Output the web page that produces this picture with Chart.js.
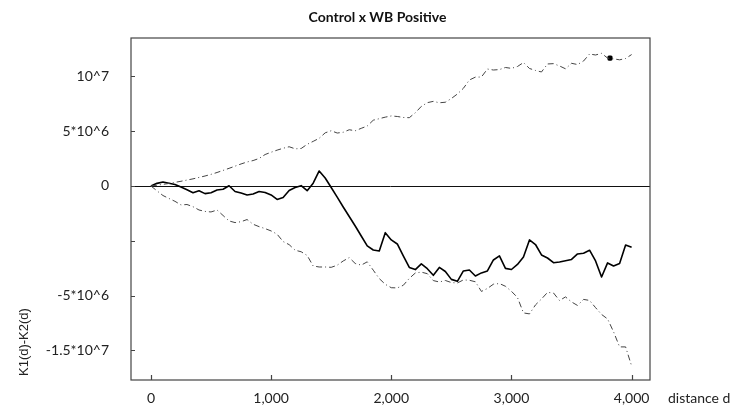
<!DOCTYPE html>
<html>
<head>
<meta charset="utf-8">
<script src="https://cdn.jsdelivr.net/npm/chart.js@4.4.1/dist/chart.umd.min.js"></script>
<style>
  html, body { margin: 0; padding: 0; background: #fff; }
  #wrap { position: relative; width: 755px; height: 411px; }
</style>
</head>
<body>
<div id="wrap"><canvas id="chart"></canvas></div>
<script>
  // distance d (x) and K1(d)-K2(d) values, in units of 10^6
  const distances = [
    0, 50, 100, 150, 200, 250, 300, 350, 400, 450,
    500, 550, 600, 650, 700, 750, 800, 850, 900, 950,
    1000, 1050, 1100, 1150, 1200, 1250, 1300, 1350, 1400, 1450,
    1500, 1550, 1600, 1650, 1700, 1750, 1800, 1850, 1900, 1950,
    2000, 2050, 2100, 2150, 2200, 2250, 2300, 2350, 2400, 2450,
    2500, 2550, 2600, 2650, 2700, 2750, 2800, 2850, 2900, 2950,
    3000, 3050, 3100, 3150, 3200, 3250, 3300, 3350, 3400, 3450,
    3500, 3550, 3600, 3650, 3700, 3750, 3800, 3850, 3900, 3950,
    4000
  ];
  const observed = [
    0, 0.24, 0.36, 0.25, 0.14, -0.09, -0.34, -0.62, -0.43, -0.70,
    -0.61, -0.36, -0.30, 0.02, -0.50, -0.64, -0.82, -0.73, -0.50, -0.59,
    -0.82, -1.23, -1.05, -0.41, -0.14, 0.03, -0.43, 0.26, 1.37, 0.73,
    -0.14, -1.02, -1.92, -2.78, -3.65, -4.56, -5.47, -5.84, -5.93, -4.26,
    -4.92, -5.29, -6.38, -7.43, -7.63, -7.11, -7.55, -8.15, -7.43, -7.80,
    -8.52, -8.70, -7.75, -7.66, -8.21, -7.93, -7.75, -6.75, -6.38, -7.52,
    -7.62, -7.16, -6.48, -4.92, -5.34, -6.29, -6.57, -7.00, -6.93, -6.82,
    -6.70, -6.20, -6.13, -5.86, -6.84, -8.30, -7.02, -7.30, -7.07, -5.38,
    -5.59
  ];
  const upperEnvelope = [
    0, 0.07, 0.15, 0.23, 0.33, 0.43, 0.54, 0.65, 0.78, 0.91,
    1.06, 1.23, 1.42, 1.61, 1.81, 2.01, 2.19, 2.32, 2.51, 2.87,
    3.08, 3.27, 3.44, 3.58, 3.39, 3.42, 3.80, 4.07, 4.35, 4.85,
    5.04, 4.83, 4.90, 5.13, 5.04, 5.26, 5.47, 6.00, 6.14, 6.28,
    6.39, 6.34, 6.25, 6.23, 6.68, 7.26, 7.60, 7.72, 7.59, 7.64,
    7.98, 8.39, 8.91, 9.67, 9.93, 9.94, 10.67, 10.58, 10.62, 10.81,
    10.73, 10.90, 11.26, 10.72, 10.54, 10.40, 11.13, 11.16, 10.95, 10.69,
    11.19, 11.08, 11.40, 12.04, 11.95, 12.10, 11.67, 11.60, 11.51, 11.63,
    11.99
  ];
  const lowerEnvelope = [
    0, -0.44, -0.87, -1.14, -1.40, -1.73, -1.69, -1.89, -2.19, -2.32,
    -2.37, -2.19, -2.69, -3.19, -3.34, -3.26, -3.06, -3.49, -3.71, -3.89,
    -4.10, -4.40, -5.07, -5.35, -5.86, -6.00, -6.34, -7.30, -7.39, -7.39,
    -7.42, -7.23, -6.84, -6.54, -7.07, -7.22, -6.92, -7.68, -8.45, -8.97,
    -9.28, -9.30, -9.06, -8.43, -7.94, -7.86, -8.00, -8.63, -8.76, -8.62,
    -8.81, -8.85, -8.57, -8.60, -8.74, -9.62, -9.35, -8.96, -8.90, -9.15,
    -9.61, -10.17, -11.58, -11.67, -10.85, -10.31, -9.71, -9.76, -10.45, -10.12,
    -10.58, -10.90, -10.35, -10.44, -11.10, -11.72, -12.13, -13.31, -14.68, -14.68,
    -16.42
  ];
  const markerDistance = [3820];
  const markerValue = [11.67];

  const xTickValues = [0, 1000, 2000, 3000, 4000];
  const yTickValues = [10, 5, 0, -5, -10, -15];
  const yTickLabels = ["10^7", "5*10^6", "0", "", "-5*10^6", "-1.5*10^7"];

  const toPoints = (xs, ys) => xs.map((x, i) => ({ x: x, y: ys[i] }));

  // title, zero line, frame, inward tick marks and the two axis captions
  const decorPlugin = {
    id: "decor",
    beforeDatasetsDraw(chart) {
      const { ctx, chartArea: a, scales } = chart;
      const y0 = Math.round(scales.y.getPixelForValue(0)) + 0.5;
      ctx.save();
      ctx.strokeStyle = "#111";
      ctx.lineWidth = 1;
      ctx.beginPath();
      ctx.moveTo(a.left, y0);
      ctx.lineTo(a.right, y0);
      ctx.stroke();
      ctx.restore();
    },
    afterDraw(chart) {
      const { ctx, chartArea: a, scales } = chart;
      ctx.save();
      ctx.strokeStyle = "#444";
      ctx.lineWidth = 1.2;
      ctx.strokeRect(a.left, a.top, a.right - a.left, a.bottom - a.top);
      ctx.beginPath();
      yTickValues.forEach((v) => {
        const py = Math.round(scales.y.getPixelForValue(v)) + 0.5;
        ctx.moveTo(a.left, py);
        ctx.lineTo(a.left + 4, py);
      });
      xTickValues.forEach((v) => {
        const px = Math.round(scales.x.getPixelForValue(v)) + 0.5;
        ctx.moveTo(px, a.bottom);
        ctx.lineTo(px, a.bottom - 5);
      });
      ctx.stroke();

      ctx.fillStyle = "#111";
      ctx.font = "bold 14px Lato";
      ctx.textAlign = "center";
      ctx.textBaseline = "middle";
      ctx.fillText("Control x WB Positive", chart.width / 2, 17);

      ctx.fillStyle = "#222";
      ctx.font = "14px Lato";
      ctx.textAlign = "left";
      ctx.fillText("distance d", a.right + 18, 398);

      ctx.translate(24, a.bottom - 4);
      ctx.rotate(-Math.PI / 2);
      ctx.font = "13px 'Liberation Sans'";
      ctx.fillText("K1(d)-K2(d)", 0, 0);
      ctx.restore();
    },
  };

  const lineStyle = { fill: false, pointRadius: 0, tension: 0, borderJoinStyle: "round" };

  new Chart(document.getElementById("chart"), {
    type: "line",
    data: {
      datasets: [
        Object.assign({
          label: "upper",
          data: toPoints(distances, upperEnvelope),
          borderColor: "#444",
          borderWidth: 1,
          borderDash: [6, 3, 1, 3],
        }, lineStyle),
        Object.assign({
          label: "lower",
          data: toPoints(distances, lowerEnvelope),
          borderColor: "#444",
          borderWidth: 1,
          borderDash: [6, 3, 1, 3],
        }, lineStyle),
        Object.assign({
          label: "observed",
          data: toPoints(distances, observed),
          borderColor: "#000",
          borderWidth: 1.6,
        }, lineStyle),
        {
          label: "marker",
          type: "scatter",
          data: toPoints(markerDistance, markerValue),
          pointStyle: "rectRounded",
          pointRadius: 3,
          pointBackgroundColor: "#000",
          pointBorderWidth: 0,
        },
      ],
    },
    options: {
      responsive: true,
      maintainAspectRatio: false,
      animation: false,
      events: [],
      layout: { padding: { left: 0, right: 105, top: 38, bottom: 0 } },
      plugins: {
        legend: { display: false },
        tooltip: { enabled: false },
        title: { display: false },
      },
      scales: {
        x: {
          type: "linear",
          min: -166,
          max: 4153,
          grid: { display: false },
          border: { display: false },
          afterBuildTicks: (scale) => {
            scale.ticks = xTickValues.map((v) => ({ value: v }));
          },
          afterFit: (scale) => { scale.height = 31; },
          ticks: {
            autoSkip: false,
            maxRotation: 0,
            padding: 2,
            color: "#222",
            font: { family: "Lato", size: 14 },
            callback: (v) => Number(v).toLocaleString("en-US"),
          },
        },
        y: {
          min: -17.7,
          max: 13.5,
          grid: { display: false },
          border: { display: false },
          afterBuildTicks: (scale) => {
            scale.ticks = yTickValues.map((v) => ({ value: v }));
          },
          afterFit: (scale) => { scale.width = 131; },
          ticks: {
            autoSkip: false,
            padding: 14,
            color: "#222",
            font: { family: "Lato", size: 14 },
            callback: (v) => yTickLabels[yTickValues.indexOf(v)],
          },
        },
      },
    },
    plugins: [decorPlugin],
  });
</script>
</body>
</html>
